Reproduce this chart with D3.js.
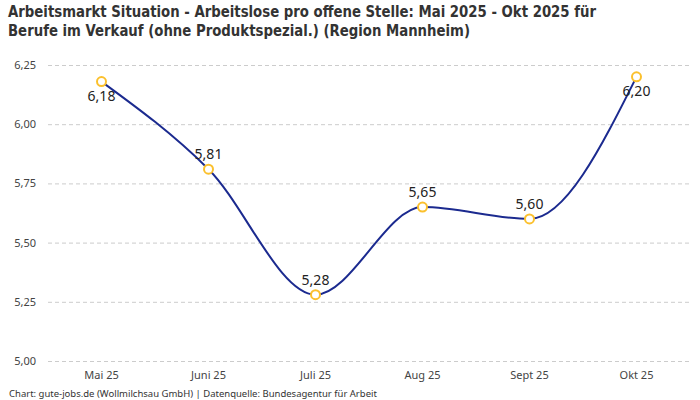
<!DOCTYPE html>
<html>
<head>
<meta charset="utf-8">
<script src="https://cdn.jsdelivr.net/npm/d3@7"></script>
<style>
  body { margin: 0; background: #fff; }
  svg { display: block; }
</style>
</head>
<body>
<svg id="chart" width="700" height="400"></svg>
<script>
const months = ['Mai 25', 'Juni 25', 'Juli 25', 'Aug 25', 'Sept 25', 'Okt 25']
const values = [6.18, 5.81, 5.28, 5.65, 5.60, 6.20]
const labelBelow = [true, false, false, false, false, true]
const yTicks = [5.00, 5.25, 5.50, 5.75, 6.00, 6.25]

const width = 700, height = 400
const margin = {top: 65, right: 10, bottom: 39, left: 48}
const bodyFont = '"Noto Sans", "Open Sans", sans-serif'

const svg = d3.select('#chart')
const fmt = v => d3.format('.2f')(v).replace('.', ',')

const x = d3.scaleBand()
    .domain(months)
    .range([margin.left, width - margin.right])

const y = d3.scaleLinear()
    .domain([5.00, 6.25])
    .range([height - margin.bottom, margin.top])

// title (condensed look via textLength)
const title = svg.append('g')
    .attr('font-family', '"DejaVu Sans Condensed", "DejaVu Sans", sans-serif')
    .attr('font-weight', 'bold')
    .attr('font-size', 16.5)
    .attr('fill', '#333')
title.append('text').attr('x', 8).attr('y', 17)
    .attr('textLength', 588).attr('lengthAdjust', 'spacingAndGlyphs')
    .text('Arbeitsmarkt Situation - Arbeitslose pro offene Stelle: Mai 2025 - Okt 2025 für')
title.append('text').attr('x', 8).attr('y', 36)
    .attr('textLength', 462).attr('lengthAdjust', 'spacingAndGlyphs')
    .text('Berufe im Verkauf (ohne Produktspezial.) (Region Mannheim)')

// grid + y axis
const yAxis = d3.axisLeft(y)
    .tickValues(yTicks)
    .tickFormat(fmt)
    .tickSize(-(width - margin.left - margin.right))
    .tickPadding(12)

svg.append('g')
    .attr('class', 'y-axis')
    .attr('transform', `translate(${margin.left},0)`)
    .call(yAxis)
    .call(g => g.select('.domain').remove())
    .call(g => g.selectAll('line')
        .attr('stroke', '#ccc')
        .attr('stroke-dasharray', '4,3'))
    .call(g => g.selectAll('text')
        .attr('fill', '#444')
        .attr('font-size', 11)
        .attr('font-family', bodyFont))

// x axis
const xAxis = d3.axisBottom(x).tickSize(0).tickPadding(10)
svg.append('g')
    .attr('class', 'x-axis')
    .attr('transform', `translate(0,${height - margin.bottom})`)
    .call(xAxis)
    .call(g => g.select('.domain').remove())
    .call(g => g.selectAll('text')
        .attr('fill', '#444')
        .attr('font-size', 11)
        .attr('font-family', bodyFont))

const cx = (d, i) => x(months[i]) + x.bandwidth() / 2

const line = d3.line()
    .x(cx)
    .y(d => y(d))
    .curve(d3.curveMonotoneX)

svg.append('path')
    .datum(values)
    .attr('d', line)
    .attr('fill', 'none')
    .attr('stroke', '#1b2a8f')
    .attr('stroke-width', 2)

svg.selectAll('circle.pt')
    .data(values)
    .enter()
    .append('circle')
    .attr('class', 'pt')
    .attr('cx', cx)
    .attr('cy', d => y(d))
    .attr('r', 4.5)
    .attr('fill', '#fff')
    .attr('stroke', '#fbc02d')
    .attr('stroke-width', 2)

svg.selectAll('text.lbl')
    .data(values)
    .enter()
    .append('text')
    .attr('class', 'lbl')
    .attr('x', cx)
    .attr('y', (d, i) => labelBelow[i] ? y(d) + 19 : y(d) - 10)
    .attr('text-anchor', 'middle')
    .attr('font-family', bodyFont)
    .attr('font-size', 14)
    .attr('fill', '#222')
    .text(fmt)

svg.append('text')
    .attr('x', 9)
    .attr('y', 397)
    .attr('font-family', bodyFont)
    .attr('font-size', 9.5)
    .attr('fill', '#333')
    .text('Chart: gute-jobs.de (Wollmilchsau GmbH) | Datenquelle: Bundesagentur für Arbeit')
</script>
</body>
</html>
